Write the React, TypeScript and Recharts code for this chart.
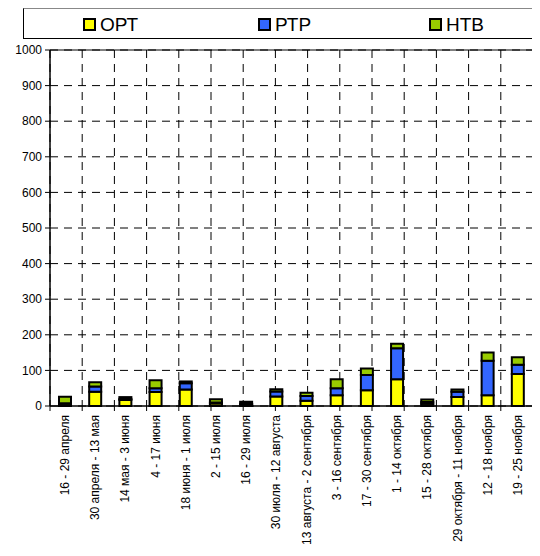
import React from 'react';
import { BarChart, Bar, XAxis, YAxis, CartesianGrid, ReferenceLine, Legend } from 'recharts';

const categories = [
  '16 - 29 апреля',
  '30 апреля - 13 мая',
  '14 мая - 3 июня',
  '4 - 17 июня',
  '18 июня - 1 июля',
  '2 - 15 июля',
  '16 - 29 июля',
  '30 июля - 12 августа',
  '13 августа - 2 сентября',
  '3 - 16 сентября',
  '17 - 30 сентября',
  '1 - 14 октября',
  '15 - 28 октября',
  '29 октября - 11 ноября',
  '12 - 18 ноября',
  '19 - 25 ноября',
];
const ortValues = [6, 40, 17, 39, 46, 7, 4, 27, 15, 30, 44, 75, 6, 25, 30, 90];
const rtrValues = [2, 15, 3, 11, 18, 3, 2, 14, 13, 20, 43, 87, 5, 15, 97, 26];
const ntvValues = [18, 12, 5, 22, 5, 9, 6, 6, 9, 25, 18, 13, 7, 6, 23, 21];
const yTicks = [0, 100, 200, 300, 400, 500, 600, 700, 800, 900, 1000];
const boundaryTicks = [0, 1, 2, 3, 4, 5, 6, 7, 8, 9, 10, 11, 12, 13, 14, 15, 16];
const seriesNames = ['ОРТ', 'РТР', 'НТВ'];
const seriesColors = ['#FFFF00', '#3366FF', '#99CC00'];

const data = categories.map((name, i) => ({
  name,
  ort: ortValues[i],
  rtr: rtrValues[i],
  ntv: ntvValues[i],
}));

const FONT = '"Liberation Sans", Arial, sans-serif';

const CatTick = (props: any) => {
  const { x, y, payload } = props;
  return (
    <text
      x={x}
      y={y}
      transform={`rotate(-90 ${x} ${y})`}
      textAnchor="end"
      dominantBaseline="central"
      fontSize={12}
      fontFamily={FONT}
      fill="#000"
    >
      {payload.value}
    </text>
  );
};

const legendX = [59, 234, 405];

const LegendBox = () => (
  <div
    style={{
      position: 'relative',
      width: 517,
      height: 31,
      borderTop: '1px solid #888',
      borderLeft: '1px solid #000',
      borderBottom: '1px solid #000',
      boxSizing: 'border-box',
      background: '#fff',
      fontFamily: FONT,
    }}
  >
    {seriesNames.map((n, i) => (
      <div
        key={n}
        style={{ position: 'absolute', left: legendX[i], top: 9, display: 'flex', alignItems: 'center', height: 13 }}
      >
        <div
          style={{
            width: 13,
            height: 13,
            boxSizing: 'border-box',
            border: '2px solid #000',
            background: seriesColors[i],
          }}
        />
        <span style={{ fontSize: 19, marginLeft: 4, color: '#000', lineHeight: '13px' }}>{n}</span>
      </div>
    ))}
  </div>
);

export default function App() {
  return (
    <BarChart
      width={532}
      height={548}
      data={data}
      margin={{ top: 42, right: 7, left: 0, bottom: 0 }}
      style={{ fontFamily: FONT }}
    >
      <Legend
        layout="horizontal"
        verticalAlign="middle"
        align="center"
        content={() => <LegendBox />}
        wrapperStyle={{ top: 0, left: 15, width: 517, height: 31 }}
      />
      <CartesianGrid
        xAxisId="axisA"
        stroke="#000"
        strokeDasharray="8 6"
        strokeWidth={1}
      />
      <XAxis
        xAxisId="axisB"
        dataKey="name"
        interval={0}
        axisLine={false}
        tickLine={false}
        tickSize={0}
        tickMargin={3}
        height={144}
        tick={<CatTick />}
      />
      <XAxis
        xAxisId="axisA"
        type="number"
        domain={[0, 16]}
        ticks={boundaryTicks}
        interval={0}
        tickFormatter={() => ''}
        tickSize={5}
        height={6}
        stroke="#000"
        tickLine={{ stroke: '#000' }}
        axisLine={{ stroke: '#000', strokeWidth: 1.5 }}
      />
      <YAxis
        domain={[0, 1000]}
        ticks={yTicks}
        interval={0}
        width={42}
        tickSize={5}
        tickMargin={3}
        stroke="#000"
        axisLine={{ stroke: '#000', strokeWidth: 1.5 }}
        tick={{ fontSize: 12, fill: '#000', fontFamily: FONT }}
      />
      <ReferenceLine y={1000} xAxisId="axisA" stroke="#000" strokeWidth={1} />
      <ReferenceLine x={16} xAxisId="axisA" stroke="#000" strokeWidth={1} />
      <Bar xAxisId="axisB" dataKey="ort" name={seriesNames[0]} stackId="a" fill={seriesColors[0]} stroke="#000" strokeWidth={2} barSize={12} isAnimationActive={false} />
      <Bar xAxisId="axisB" dataKey="rtr" name={seriesNames[1]} stackId="a" fill={seriesColors[1]} stroke="#000" strokeWidth={2} barSize={12} isAnimationActive={false} />
      <Bar xAxisId="axisB" dataKey="ntv" name={seriesNames[2]} stackId="a" fill={seriesColors[2]} stroke="#000" strokeWidth={2} barSize={12} isAnimationActive={false} />
    </BarChart>
  );
}
